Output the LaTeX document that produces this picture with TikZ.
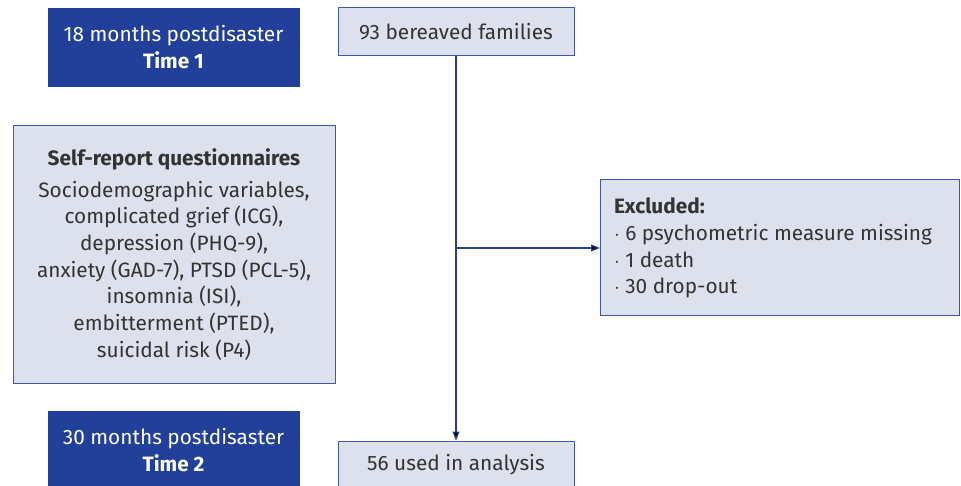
\documentclass[tikz,border=0pt]{standalone}
\usepackage{fontspec}
\setmainfont{Fira Sans}
\usepackage{xcolor}
\usetikzlibrary{arrows.meta}
\definecolor{navy}{HTML}{22409A}
\definecolor{boxfill}{HTML}{DDE1EE}
\definecolor{boxline}{HTML}{3D58AC}
\definecolor{textgray}{HTML}{333333}

\begin{document}
\begin{tikzpicture}[x=1pt,y=-1pt]
                        \tikzset{TimeBox/.style={%
                                shape=rectangle,%
                                fill=navy,%
                                draw=navy,%
                                text=white,%
                                minimum width=251pt,%
                                minimum height=78pt,%
                                inner sep=0pt,%
                                align=center,%
                                font=\fontsize{20.8}{26.5}\selectfont,%
                            },
                            StepBox/.style={%
                                shape=rectangle,%
                                fill=boxfill,%
                                draw=boxline,%
                                line width=1pt,%
                                text=textgray,%
                                inner sep=0pt,%
                                align=center,%
                                font=\fontsize{20.8}{26.7}\selectfont,%
                            },
                            Flow/.style={%
                                draw=navy,%
                                line width=1.2pt,%
                            }}
                            \useasboundingbox (0,0) rectangle (961,486);

                            \node[TimeBox] (t1) at (173.5,47) {18 months postdisaster\\\textbf{Time 1}};
                            \node[TimeBox] (t2) at (173.5,450) {30 months postdisaster\\\textbf{Time 2}};
                            \node[StepBox, minimum width=236pt, minimum height=48pt] (fam) at (456,32) {93 bereaved families};
                            \node[StepBox, minimum width=322pt, minimum height=257pt] (quest) at (174,254.5)
                                {\textbf{Self-report questionnaires}\\[5pt]
                                 Sociodemographic variables,\\
                                 complicated grief (ICG),\\
                                 depression (PHQ-9),\\
                                 anxiety (GAD-7), PTSD (PCL-5),\\
                                 insomnia (ISI),\\
                                 embitterment (PTED),\\
                                 suicidal risk (P4)};
                            \node[StepBox, align=flush left, text width=332pt, inner xsep=13.5pt, minimum height=136pt, anchor=west] (excl) at (600,248)
                                {\textbf{Excluded:}\\
                                 $\cdot$ 6 psychometric measure missing\\
                                 $\cdot$ 1 death\\
                                 $\cdot$ 30 drop-out};
                            \node[StepBox, minimum width=236pt, minimum height=48pt] (ana) at (456,465) {56 used in analysis};
                            \coordinate (split) at (456,248);

                            \path[Flow] (fam) edge[-{Triangle[length=9pt,width=7pt]}] (ana);
                            \path[Flow] (split) edge[-{Triangle[length=9pt,width=7pt]}] (excl);
                    \end{tikzpicture}
\end{document}
